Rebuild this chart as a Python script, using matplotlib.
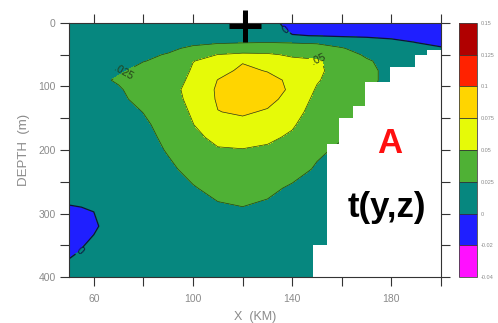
import numpy as np
import matplotlib
matplotlib.use("Agg")
import matplotlib.pyplot as plt
from matplotlib.colors import ListedColormap, BoundaryNorm

plt.rcParams["font.family"] = ["Liberation Sans", "DejaVu Sans"]

# ---- section coordinates -------------------------------------------------
x_km = [50, 60, 70, 80, 90, 100, 110, 120, 130, 140, 150, 160, 170, 180, 190, 200]
depth_m = [0, 10, 20, 30, 40, 50, 60, 75, 90, 105, 120, 140, 160, 180, 200,
           230, 260, 290, 320, 360, 400]

# t(y,z) profiles, one list per x station (values at depth_m)
t_profiles = [
    [0.012, 0.012, 0.012, 0.012, 0.012, 0.012, 0.012, 0.012, 0.012, 0.012, 0.012,
     0.012, 0.012, 0.012, 0.012, 0.011, 0.008, -0.001, -0.008, -0.004, 0.010],
    [0.012, 0.012, 0.012, 0.012, 0.013, 0.013, 0.014, 0.016, 0.018, 0.016, 0.014,
     0.013, 0.012, 0.012, 0.012, 0.012, 0.009, 0.001, -0.003, 0.006, 0.012],
    [0.012, 0.012, 0.013, 0.013, 0.014, 0.016, 0.018, 0.022, 0.028, 0.022, 0.019,
     0.016, 0.014, 0.013, 0.012, 0.012, 0.012, 0.012, 0.012, 0.012, 0.012],
    [0.012, 0.013, 0.014, 0.016, 0.019, 0.022, 0.0245, 0.031, 0.036, 0.038, 0.034,
     0.0255, 0.021, 0.018, 0.016, 0.014, 0.013, 0.012, 0.012, 0.012, 0.012],
    [0.012, 0.013, 0.015, 0.018, 0.022, 0.0261, 0.0289, 0.0331, 0.0374, 0.0416, 0.0412,
     0.0376, 0.034, 0.0304, 0.0268, 0.021, 0.017, 0.014, 0.013, 0.012, 0.012],
    [0.012, 0.013, 0.016, 0.021, 0.028, 0.039, 0.0495, 0.0525, 0.0555, 0.058, 0.0557,
     0.0527, 0.0495, 0.0443, 0.039, 0.0313, 0.0235, 0.018, 0.015, 0.013, 0.012],
    [0.012, 0.013, 0.016, 0.022, 0.035, 0.0505, 0.057, 0.068, 0.0755, 0.078, 0.0775,
     0.0745, 0.0655, 0.056, 0.048, 0.040, 0.031, 0.0225, 0.017, 0.014, 0.012],
    [0.012, 0.013, 0.016, 0.023, 0.038, 0.054, 0.0735, 0.079, 0.086, 0.0875, 0.084,
     0.0775, 0.0698, 0.059, 0.049, 0.041, 0.033, 0.0248, 0.019, 0.015, 0.013],
    [0.008, 0.009, 0.013, 0.024, 0.038, 0.053, 0.062, 0.074, 0.081, 0.083, 0.0805,
     0.073, 0.064, 0.055, 0.046, 0.037, 0.029, 0.022, 0.018, 0.015, 0.013],
    [-0.008, -0.004, 0.001, 0.023, 0.036, 0.047, 0.055, 0.064, 0.071, 0.072, 0.068,
     0.061, 0.053, 0.046, 0.040, 0.032, 0.0225, 0.018, 0.015, 0.013, 0.012],
    [-0.008, -0.006, -0.0005, 0.0215, 0.034, 0.045, 0.052, 0.054, 0.052, 0.0475, 0.043,
     0.038, 0.034, 0.031, 0.028, 0.023, 0.019, 0.016, 0.014, 0.013, 0.012],
    [-0.021, -0.010, -0.002, 0.012, 0.027, 0.038, 0.042, 0.041, 0.038, 0.035, 0.033,
     0.030, 0.028, 0.026, 0.022, 0.018, 0.015, 0.013, 0.012, 0.012, 0.012],
    [-0.012, -0.007, -0.002, 0.006, 0.013, 0.021, 0.028, 0.032, 0.032, 0.030, 0.028,
     0.0255, 0.022, 0.018, 0.016, 0.014, 0.013, 0.012, 0.012, 0.012, 0.012],
    [-0.011, -0.007, -0.004, 0.004, 0.009, 0.012, 0.016, 0.017, 0.017, 0.016, 0.015,
     0.014, 0.013, 0.012, 0.012, 0.012, 0.012, 0.012, 0.012, 0.012, 0.012],
    [-0.012, -0.008, -0.005, -0.0005, 0.005, 0.009, 0.011, 0.012, 0.012, 0.012, 0.012,
     0.012, 0.012, 0.012, 0.012, 0.012, 0.012, 0.012, 0.012, 0.012, 0.012],
    [-0.012, -0.009, -0.006, -0.003, 0.001, 0.006, 0.009, 0.011, 0.012, 0.012, 0.012,
     0.012, 0.012, 0.012, 0.012, 0.012, 0.012, 0.012, 0.012, 0.012, 0.012],
]

# bottom topography (step edges in km, bottom depth in m)
bottom_x_km = [148.5, 154, 159, 164.5, 169.5, 179.5, 189.5, 194.5, 200]
bottom_depth_m = [350, 190, 150, 130, 93, 69, 50, 42, 42]

# station marker
station_x_km = 121
station_depth_m = 5

levels = [-0.04, -0.02, 0, 0.025, 0.05, 0.075, 0.1, 0.125, 0.15]
level_colors = ["#ff10ff", "#1f1fff", "#06877f", "#4fb135", "#e6fa08",
                "#ffd500", "#ff2200", "#b00000"]
cbar_labels = ["-0.04", "-0.02", "0", "0.025", "0.05", "0.075", "0.1", "0.125", "0.15"]
contour_labels = {0: "0", 0.025: ".025", 0.05: ".05"}

# ---- figure ----------------------------------------------------------------
fig = plt.figure(figsize=(4.98, 3.23), dpi=100)
ax = fig.add_axes([0.1386, 0.1424, 0.747, 0.7864])
cax = fig.add_axes([0.9217, 0.1424, 0.0361, 0.7864])

X = np.array(x_km, dtype=float)
Z = np.array(depth_m, dtype=float)
T = np.array(t_profiles).T

cmap = ListedColormap(level_colors)
norm = BoundaryNorm(levels, cmap.N)
cf = ax.contourf(X, Z, T, levels=levels, cmap=cmap, norm=norm, zorder=1)

cl_main = ax.contour(X, Z, T, levels=[0.025, 0.05, 0.075], colors="#24401a",
                     linewidths=0.5, zorder=1.5)
cl_zero = ax.contour(X, Z, T, levels=[0], colors="#10103a", linewidths=0.9,
                     zorder=1.6)

ax.clabel(cl_main, levels=[0.025, 0.05], fmt=contour_labels, fontsize=7.5,
          colors="#24401a", inline=True, inline_spacing=2,
          manual=[(72, 78), (150, 62)])
ax.clabel(cl_zero, fmt=contour_labels, fontsize=7.5, colors="#10103a",
          inline=True, inline_spacing=2, manual=[(136, 20), (55, 362)])

# land / below-bottom region
ax.fill_between(bottom_x_km, bottom_depth_m, 400, step="post",
                facecolor="white", edgecolor="none", zorder=2)

ax.plot([station_x_km], [station_depth_m], marker="+", color="black",
        markersize=23, markeredgewidth=3.6, clip_on=False, zorder=6)

ax.text(179.5, 189, "A", color="#ff1010", fontsize=25, fontweight="bold",
        ha="center", va="center", zorder=5)
ax.text(178, 290, "t(y,z)", color="black", fontsize=25, fontweight="bold",
        ha="center", va="center", zorder=5)

ax.set_xlim(50, 200)
ax.set_ylim(400, 0)

xt = np.arange(60, 201, 20)
ax.set_xticks(xt)
ax.set_xticklabels([str(v) if v in (60, 100, 140, 180) else "" for v in xt])
yt = np.arange(0, 401, 50)
ax.set_yticks(yt)
ax.set_yticklabels([str(v) if v % 100 == 0 else "" for v in yt])

ax.tick_params(axis="both", which="major", top=True, right=True, direction="out",
               length=6.5, width=0.8, color="#333333", labelcolor="#8a8a8a",
               labelsize=7.5)
ax.tick_params(axis="x", pad=6)
ax.tick_params(axis="y", pad=3)
for s in ax.spines.values():
    s.set_color("#333333")
    s.set_linewidth(0.8)
    s.set_zorder(3)

ax.set_xlabel("X  (KM)", color="#8a8a8a", fontsize=9, labelpad=5)
ax.set_ylabel("DEPTH  (m)", color="#8a8a8a", fontsize=9.5, labelpad=6)

cb = fig.colorbar(cf, cax=cax, ticks=levels, drawedges=True)
cb.set_ticklabels(cbar_labels)
cb.ax.tick_params(length=0, labelsize=4, labelcolor="#8a8a8a", pad=2.5)
cb.outline.set_edgecolor("#444444")
cb.outline.set_linewidth(0.6)
cb.dividers.set_color("#333333")
cb.dividers.set_linewidth(0.6)

fig.savefig("out.png", dpi=100)
